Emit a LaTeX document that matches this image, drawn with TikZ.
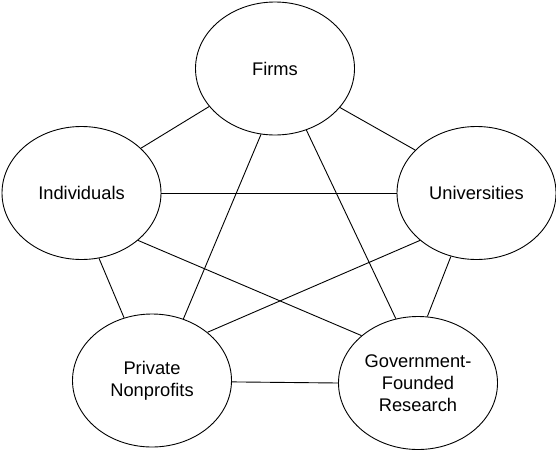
\documentclass[tikz,border=0pt]{standalone}
\usepackage{fontspec}
\setmainfont{Liberation Sans}
\usetikzlibrary{shapes.geometric}
\begin{document}
\begin{tikzpicture}[x=1pt,y=-1pt,
  actor/.style={draw, ellipse, line width=0.9pt, minimum width=159pt, minimum height=133pt,
    inner sep=0pt, align=center, font=\fontsize{18.3}{22}\selectfont},
  link/.style={draw, line width=0.9pt}]
\useasboundingbox (0,0) rectangle (556,450);
\node[actor] (firms) at (275,68.5) {Firms};
\node[actor] (ind) at (81.5,193) {Individuals};
\node[actor] (univ) at (476.5,193) {Universities};
\node[actor] (priv) at (152,380.5) {Private\\Nonprofits};
\node[actor] (gov) at (418,383) {Government-\\Founded\\Research};
\draw[link] (firms.210.3) -- (ind.37.1);
\draw[link] (firms.329.4) -- (univ.145.4);
\draw[link] (firms.258.1) -- (priv.63.6);
\draw[link] (firms.297.1) -- (gov.109);
\draw[link] (ind.0) -- (univ.180);
\draw[link] (ind.285.9) -- (priv.114.9);
\draw[link] (ind.320.2) -- (gov.140.6);
\draw[link] (univ.220.3) -- (priv.41.4);
\draw[link] (univ.248.3) -- (gov.82.1);
\draw[link] (priv.-1.8) -- (gov.180);
\end{tikzpicture}
\end{document}
